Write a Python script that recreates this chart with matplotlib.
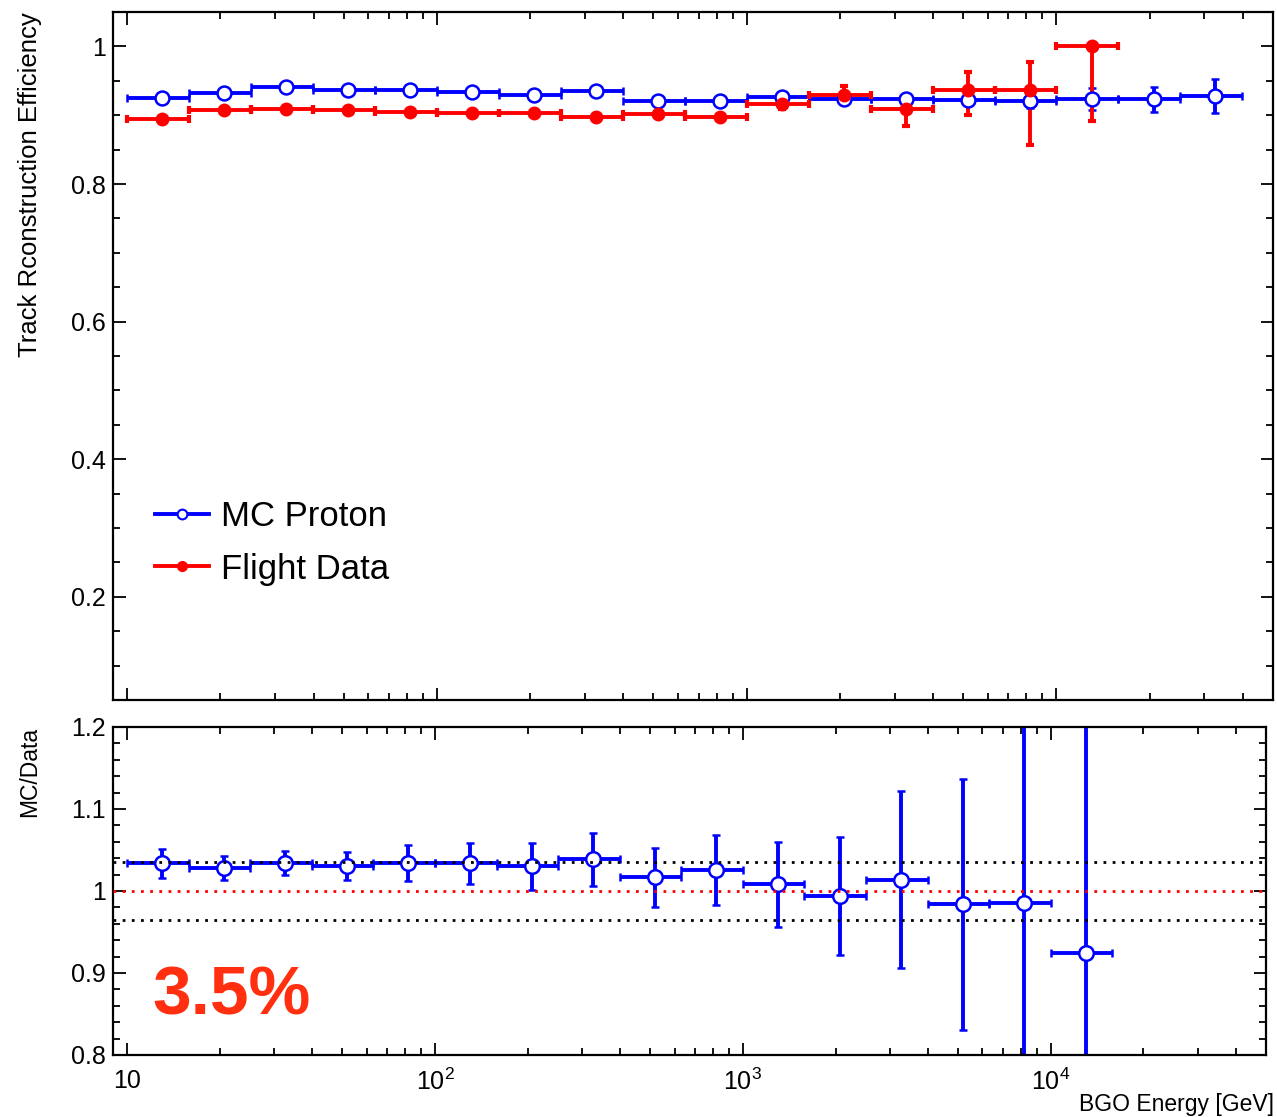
import numpy as np
import matplotlib
matplotlib.use('Agg')
import matplotlib.pyplot as plt
from matplotlib.lines import Line2D
from matplotlib.ticker import LogLocator, FuncFormatter, MultipleLocator, NullFormatter

plt.rcParams['font.family'] = ['Liberation Sans', 'DejaVu Sans']
plt.rcParams['mathtext.fontset'] = 'custom'
plt.rcParams['mathtext.rm'] = 'Liberation Sans'
plt.rcParams['mathtext.it'] = 'Liberation Sans:italic'
plt.rcParams['mathtext.default'] = 'regular'

# BGO energy bins (GeV), 5 per decade
bin_edges = [10, 15.85, 25.12, 39.81, 63.10, 100, 158.5, 251.2, 398.1, 631.0,
             1000, 1585, 2512, 3981, 6310, 10000, 15850, 25120, 39810]
# point position inside each bin
energy = [13.0, 20.6, 32.6, 51.7, 81.9, 130, 206, 326, 517, 819,
          1300, 2060, 3260, 5170, 8190, 13000, 20600, 32600]

# MC proton efficiency (18 bins)
mc_eff = [0.925, 0.932, 0.941, 0.937, 0.937, 0.934, 0.930, 0.935, 0.920, 0.921,
          0.926, 0.924, 0.923, 0.922, 0.921, 0.924, 0.923, 0.928]
mc_err = [0.002, 0.002, 0.002, 0.002, 0.002, 0.002, 0.002, 0.002, 0.002, 0.002,
          0.003, 0.004, 0.005, 0.007, 0.010, 0.016, 0.018, 0.025]

# flight data efficiency (16 bins)
data_eff = [0.895, 0.907, 0.909, 0.908, 0.905, 0.903, 0.903, 0.898, 0.902, 0.897,
            0.917, 0.929, 0.909, 0.936, 0.936, 1.000]
data_err_lo = [0.002, 0.002, 0.002, 0.002, 0.002, 0.002, 0.002, 0.002, 0.002, 0.002,
               0.008, 0.013, 0.024, 0.035, 0.080, 0.109]
data_err_hi = [0.002, 0.002, 0.002, 0.002, 0.002, 0.002, 0.002, 0.002, 0.002, 0.002,
               0.008, 0.013, 0.020, 0.027, 0.041, 0.0]

# MC / Data ratio (16 bins)
ratio = [1.034, 1.028, 1.034, 1.031, 1.034, 1.034, 1.030, 1.0385, 1.017, 1.0255,
         1.008, 0.994, 1.014, 0.984, 0.985, 0.924]
ratio_err = [0.0176, 0.015, 0.0146, 0.017, 0.022, 0.025, 0.029, 0.032, 0.036, 0.0425,
             0.052, 0.072, 0.108, 0.153, 0.25, 0.32]

syst = 0.035

edges = np.array(bin_edges)
x = np.array(energy)
xerr_mc = [x - edges[:-1], edges[1:] - x]
nd = len(data_eff)
xerr_d = [x[:nd] - edges[:nd], edges[1:nd + 1] - x[:nd]]

W, H = 1277, 1117
fig = plt.figure(figsize=(W / 100, H / 100), dpi=100)
ax1 = fig.add_axes([113 / W, 1 - 700 / H, 1160 / W, 688 / H])
ax2 = fig.add_axes([113 / W, 1 - 1055 / H, 1153 / W, 328 / H])

eb = dict(elinewidth=2.8, capsize=3, capthick=3)

# top panel: efficiencies
ax1.errorbar(x, mc_eff, xerr=xerr_mc, yerr=mc_err, fmt='o', color='#0000ff',
             mfc='white', mec='#0000ff', ms=10, mew=1.8, **eb)
ax1.errorbar(x[:nd], data_eff, xerr=xerr_d, yerr=[data_err_lo, data_err_hi], fmt='o',
             color='#ff0000', ms=9, **eb)

# bottom panel: ratio
ax2.errorbar(x[:nd], ratio, xerr=xerr_d, yerr=ratio_err, fmt='o', color='#0000ff',
             mfc='white', mec='#0000ff', ms=10.5, mew=1.8, **eb)
ax2.axhline(1.0, color='#ff0000', ls=(0, (1, 2.3)), lw=2, zorder=5)
ax2.axhline(1 + syst, color='black', ls=(0, (1, 2.3)), lw=2, zorder=5)
ax2.axhline(1 - syst, color='black', ls=(0, (1, 2.3)), lw=2, zorder=5)

def xfmt(v, pos):
    n = int(round(np.log10(v)))
    return '10' if n == 1 else r'$10^{%d}$' % n

for ax in (ax1, ax2):
    ax.set_xscale('log')
    ax.set_xlim(9, 5e4)
    ax.xaxis.set_major_locator(LogLocator(base=10))
    ax.xaxis.set_minor_locator(LogLocator(base=10, subs=np.arange(2, 10)))
    ax.xaxis.set_minor_formatter(NullFormatter())
    ax.yaxis.set_major_formatter(FuncFormatter(lambda v, p: '%g' % round(v, 3)))
    ax.tick_params(which='both', direction='in', top=True, right=True, width=1.3,
                   labelsize=18)
    ax.tick_params(which='major', length=9)
    ax.tick_params(which='minor', length=5)
    ax.tick_params(axis='y', pad=5)
    for s in ax.spines.values():
        s.set_linewidth(1.6)

ax1.set_ylim(0.05, 1.05)
ax1.yaxis.set_major_locator(MultipleLocator(0.2))
ax1.yaxis.set_minor_locator(MultipleLocator(0.05))
ax1.tick_params(labelbottom=False)

ax2.set_ylim(0.8, 1.2)
ax2.yaxis.set_major_locator(MultipleLocator(0.1))
ax2.yaxis.set_minor_locator(MultipleLocator(0.02))
ax2.xaxis.set_major_formatter(FuncFormatter(xfmt))
ax2.tick_params(axis='x', pad=10)

handles = [Line2D([], [], color='#0000ff', lw=2.8, marker='o', ms=7, mfc='white', mew=1.5),
           Line2D([], [], color='#ff0000', lw=2.8, marker='o', ms=7)]
ax1.legend(handles, ['MC Proton', 'Flight Data'], loc='upper left',
           bbox_to_anchor=(0.0362, 0.290), frameon=False, fontsize=25,
           handlelength=1.55, handletextpad=0.35, borderpad=0, borderaxespad=0,
           labelspacing=0.55)

ax2.text(0.0338, 0.122, '3.5%', transform=ax2.transAxes, fontsize=50,
         fontweight='bold', color='#ff2f0f', va='baseline', ha='left')

fig.text(30 / W, 1 - 12 / H, 'Track Rconstruction Efficiency', rotation=90,
         ha='center', va='top', fontsize=18.5)
fig.text(30 / W, 1 - 727 / H, 'MC/Data', rotation=90, ha='center', va='top', fontsize=16.5)
fig.text(1274 / W, 1 - 1105 / H, 'BGO Energy [GeV]', ha='right', va='center', fontsize=16.5)

fig.savefig('out.png', dpi=100)
